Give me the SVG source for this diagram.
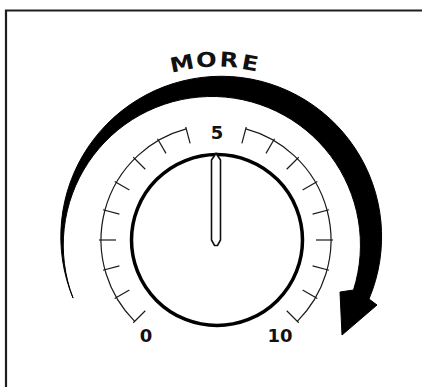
<svg xmlns="http://www.w3.org/2000/svg" width="422" height="387" viewBox="0 0 422 387">
  <style>
    .frame { fill: none; stroke: #1e1e1e; stroke-width: 2.2; }
    .arrow { fill: #000; stroke: #000; stroke-width: 1; stroke-linejoin: miter; }
    .scale { fill: none; stroke: #1a1a1a; stroke-width: 1.2; }
    .knob { fill: #fff; stroke: #000; stroke-width: 3.5; }
    .pointer { fill: #fff; stroke: #111; stroke-width: 1.6; stroke-linejoin: miter; }
    .lbl { font-family: "DejaVu Sans", "Liberation Sans", sans-serif; font-weight: bold; fill: #111; text-anchor: middle; }
    .num { font-size: 18px; }
    .more { font-size: 20.5px; }
  </style>
  <defs>
    <line id="tk" x1="216" y1="123" x2="216" y2="140" class="scale"/>
  </defs>

  <rect width="422" height="387" fill="#fff"/>

  <g id="frame">
    <path class="frame" d="M6,387 V10.5 H422"/>
  </g>

  <g id="connectors">
    <g id="more-arrow">
      <path class="arrow" d="M73,298 A160.4,160.4 0 1 1 369,299 L377,305 L342,335 L340,292 L353.5,290 A148.6,148.6 0 1 0 73,298 Z"/>
    </g>
  </g>

  <g id="more-label" class="lbl more">
    <text transform="rotate(-11.2 217 240) translate(217 67) scale(1.18 1)">M</text>
    <text transform="rotate(-3.4 217 240) translate(217 66.5) scale(1.18 1)">O</text>
    <text transform="rotate(3.8 217 240) translate(217 66.5) scale(1.18 1)">R</text>
    <text transform="rotate(10.6 217 240) translate(217 67) scale(1.18 1)">E</text>
  </g>

  <g id="scale">
    <path class="scale" d="M134.7,321.3 A115,115 0 0 1 186.2,128.9"/>
    <path class="scale" d="M245.8,128.9 A115,115 0 0 1 297.3,321.3"/>
    <use href="#tk" transform="rotate(-135 216 240)"/>
    <use href="#tk" transform="rotate(-120 216 240)"/>
    <use href="#tk" transform="rotate(-105 216 240)"/>
    <use href="#tk" transform="rotate(-90 216 240)"/>
    <use href="#tk" transform="rotate(-75 216 240)"/>
    <use href="#tk" transform="rotate(-60 216 240)"/>
    <use href="#tk" transform="rotate(-45 216 240)"/>
    <use href="#tk" transform="rotate(-30 216 240)"/>
    <use href="#tk" transform="rotate(-15 216 240)"/>
    <use href="#tk" transform="rotate(15 216 240)"/>
    <use href="#tk" transform="rotate(30 216 240)"/>
    <use href="#tk" transform="rotate(45 216 240)"/>
    <use href="#tk" transform="rotate(60 216 240)"/>
    <use href="#tk" transform="rotate(75 216 240)"/>
    <use href="#tk" transform="rotate(90 216 240)"/>
    <use href="#tk" transform="rotate(105 216 240)"/>
    <use href="#tk" transform="rotate(120 216 240)"/>
    <use href="#tk" transform="rotate(135 216 240)"/>
  </g>

  <g id="scale-labels" class="lbl num">
    <text x="217" y="139">5</text>
    <text x="146" y="342">0</text>
    <text x="280" y="342">10</text>
  </g>

  <g id="knob">
    <circle class="knob" cx="217" cy="240" r="85.5"/>
  </g>

  <g id="pointer">
    <path class="pointer" d="M211.5,160 L216,153.5 L220.5,160 V240 L217.5,245.5 H214.5 L211.5,240 Z"/>
  </g>
</svg>
